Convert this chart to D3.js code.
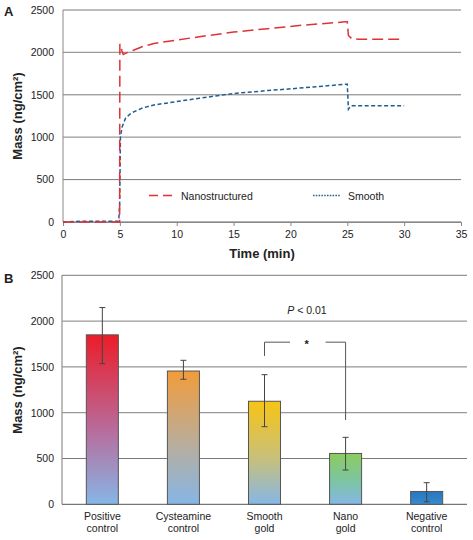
<!DOCTYPE html>
<html><head><meta charset="utf-8">
<script src="https://cdn.jsdelivr.net/npm/d3@7/dist/d3.min.js"></script>
<style>
body{margin:0;background:#fff;}
svg text{font-family:"Liberation Sans",Arial,sans-serif;fill:#222;}
</style></head>
<body><svg id="c" width="473" height="540"></svg>
<script>
// ---- Panel A data ----
const nanoTime = [0, 4.98, 5.0, 5.08, 5.18, 5.3, 5.45, 5.7, 6.2, 7, 8, 10, 12, 15, 18, 21, 24.8, 25.0, 25.1, 25.4, 26, 30];
const nanoMass = [0, 0, 2100, 2080, 2020, 1975, 1985, 2000, 2025, 2070, 2105, 2145, 2185, 2240, 2280, 2320, 2360, 2360, 2200, 2160, 2155, 2155];
const smoothTime = [0, 1.5, 4.9, 4.98, 5.05, 5.2, 5.5, 6, 7, 8, 10, 12, 15, 18, 20, 24.9, 25.0, 25.1, 25.3, 26, 30];
const smoothMass = [0, 8, 10, 200, 1000, 1120, 1225, 1285, 1345, 1380, 1420, 1460, 1515, 1550, 1570, 1625, 1625, 1330, 1370, 1370, 1370];
const xTicksA = [0, 5, 10, 15, 20, 25, 30, 35];
const yTicks = [0, 500, 1000, 1500, 2000, 2500];
const seriesNames = ["Nanostructured", "Smooth"];

// ---- Panel B data ----
const categories = [["Positive","control"],["Cysteamine","control"],["Smooth","gold"],["Nano","gold"],["Negative","control"]];
const barMeans = [1850, 1455, 1125, 555, 140];
const errLow = [1535, 1365, 847, 374, 28];
const errHigh = [2148, 1572, 1415, 731, 236];
const topColors = ["#ec1c28", "#f29c3a", "#f7c414", "#8ccb5e", "#2877bf"];
const midColors = ["#b96a9a", "#b8ad9c", "#c8c07a", "#7cc4a4", "#2f80c6"];
const botColors = ["#86b6e6", "#86b6e6", "#86b6e6", "#86b6e6", "#3a8bd0"];
const bracket = {from: 2, to: 3, yLeft: 1620, yTop: 1770, yRight: 920};
const pLabel = "< 0.01";

const svg = d3.select("#c");
const gridCol = "#7a7a7a";
const fmt = d3.format("d");

// ===== Panel A =====
const xA = d3.scaleLinear().domain([0, 35]).range([63, 461]);
const yA = d3.scaleLinear().domain([0, 2500]).range([222, 10]);
const gA = svg.append("g");
gA.append("g").selectAll("line").data(yTicks).join("line")
  .attr("x1", 63).attr("x2", 461).attr("y1", d => yA(d)).attr("y2", d => yA(d))
  .attr("stroke", (d,i) => i % 2 ? gridCol : "#999").attr("stroke-width", (d,i)=> i%2 ? 1 : 1.3);
gA.append("line").attr("x1", 63).attr("x2", 63).attr("y1", 10).attr("y2", 222).attr("stroke", "#888");
const axA = gA.append("g").attr("transform", "translate(0,222)")
  .call(d3.axisBottom(xA).tickValues(xTicksA).tickFormat(fmt).tickSize(4).tickSizeOuter(0));
axA.select(".domain").attr("stroke", "#888");
axA.selectAll(".tick line").attr("stroke", "#888");
axA.selectAll("text").attr("font-size", 10.5).attr("dy", "0.9em").attr("fill", "#222")
  .style("font-family", "Liberation Sans, Arial, sans-serif");
const ayA = gA.append("g").attr("transform", "translate(63,0)")
  .call(d3.axisLeft(yA).tickValues(yTicks).tickFormat(fmt).tickSize(0));
ayA.select(".domain").remove();
ayA.selectAll("text").attr("font-size", 10.5).attr("x", -9).attr("fill", "#222")
  .style("font-family", "Liberation Sans, Arial, sans-serif");

const lineLin = d3.line().x(d => xA(d[0])).y(d => yA(d[1]));
const smoothData = smoothTime.map((t,i)=>[t, smoothMass[i]]);
const nanoData = nanoTime.map((t,i)=>[t, nanoMass[i]]);
gA.append("path").attr("d", lineLin(smoothData)).attr("fill","none")
  .attr("stroke", "#1f5d92").attr("stroke-width", 1.5).attr("stroke-dasharray", "4,2.5");
gA.append("path").attr("d", lineLin(nanoData)).attr("fill","none")
  .attr("stroke", "#e0313b").attr("stroke-width", 1.5).attr("stroke-dasharray", "11,5");

// legend
gA.append("line").attr("x1",149).attr("x2",176).attr("y1",195.5).attr("y2",195.5)
  .attr("stroke","#e0313b").attr("stroke-width",1.5).attr("stroke-dasharray","9,5");
gA.append("text").attr("x",181).attr("y",199.5).attr("font-size",10.5).text(seriesNames[0]);
gA.append("line").attr("x1",313).attr("x2",341).attr("y1",195.5).attr("y2",195.5)
  .attr("stroke","#1f5d92").attr("stroke-width",1.3).attr("stroke-dasharray","1.5,1.3");
gA.append("text").attr("x",348).attr("y",199.5).attr("font-size",10.5).text(seriesNames[1]);

gA.append("text").attr("x",262).attr("y",258).attr("text-anchor","middle")
  .attr("font-size",13).attr("font-weight","bold").text("Time (min)");
gA.append("text").attr("transform","translate(22,116) rotate(-90)").attr("text-anchor","middle")
  .attr("font-size",13).attr("font-weight","bold").text("Mass (ng/cm²)");
gA.append("text").attr("x",4).attr("y",16).attr("font-size",13).attr("font-weight","bold").text("A");

// ===== Panel B =====
const xB = d3.scaleBand().domain(d3.range(categories.length)).range([62, 467]).paddingInner(0.605).paddingOuter(0.3);
const yB = d3.scaleLinear().domain([0, 2500]).range([504.3, 275.3]);
const gB = svg.append("g");
gB.append("g").selectAll("line").data(yTicks.slice(1)).join("line")
  .attr("x1", 62).attr("x2", 467).attr("y1", d => yB(d)).attr("y2", d => yB(d))
  .attr("stroke", (d,i) => i % 2 ? "#999" : gridCol).attr("stroke-width", (d,i)=> i%2 ? 1.3 : 1);
gB.append("line").attr("x1", 62).attr("x2", 62).attr("y1", 275).attr("y2", 504.3).attr("stroke", "#999").attr("stroke-width",1.3);
gB.append("line").attr("x1", 62).attr("x2", 467).attr("y1", 504.3).attr("y2", 504.3).attr("stroke", "#777").attr("stroke-width",1.2);
const ayB = gB.append("g").attr("transform", "translate(62,0)")
  .call(d3.axisLeft(yB).tickValues(yTicks).tickFormat(fmt).tickSize(0));
ayB.select(".domain").remove();
ayB.selectAll("text").attr("font-size", 10.5).attr("x", -8).attr("fill", "#222")
  .style("font-family", "Liberation Sans, Arial, sans-serif");

const defs = svg.append("defs");
categories.forEach((c,i) => {
  const gr = defs.append("linearGradient").attr("id","g"+i).attr("x1",0).attr("x2",0).attr("y1",0).attr("y2",1);
  gr.append("stop").attr("offset","0%").attr("stop-color",topColors[i]);
  gr.append("stop").attr("offset","55%").attr("stop-color",midColors[i]);
  gr.append("stop").attr("offset","100%").attr("stop-color",botColors[i]);
});
const cx = i => xB(i) + xB.bandwidth()/2;
gB.selectAll("rect.bar").data(barMeans).join("rect").attr("class","bar")
  .attr("x",(d,i)=>xB(i)).attr("width",xB.bandwidth())
  .attr("y",d=>yB(d)).attr("height",d=>yB(0)-yB(d))
  .attr("fill",(d,i)=>`url(#g${i})`).attr("stroke","#555").attr("stroke-width",1);
// error bars
const eb = gB.append("g").attr("stroke","#444").attr("stroke-width",1);
barMeans.forEach((d,i)=>{
  eb.append("line").attr("x1",cx(i)).attr("x2",cx(i)).attr("y1",yB(errLow[i])).attr("y2",yB(errHigh[i]));
  [errLow[i], errHigh[i]].forEach(v => eb.append("line").attr("x1",cx(i)-3).attr("x2",cx(i)+3).attr("y1",yB(v)).attr("y2",yB(v)));
});
// significance bracket
const bL = cx(bracket.from), bR = cx(bracket.to);
const br = gB.append("g").attr("stroke","#555").attr("fill","none").attr("stroke-width",1);
br.append("path").attr("d",`M${bL},${yB(bracket.yLeft)}V${yB(bracket.yTop)}H${bL+25.5}`);
br.append("path").attr("d",`M${bR-20},${yB(bracket.yTop)}H${bR}V${yB(bracket.yRight)}`);
gB.append("text").attr("x",(bL+bR)/2+1.5).attr("y",yB(bracket.yTop)+6).attr("text-anchor","middle")
  .attr("font-size",11).attr("font-weight","bold").text("*");
const pt = gB.append("text").attr("x",307).attr("y",313.5).attr("text-anchor","middle").attr("font-size",10.5);
pt.append("tspan").attr("font-style","italic").text("P");
pt.append("tspan").text(" " + pLabel);

// category labels
categories.forEach((c,i)=>{
  const t = gB.append("text").attr("x",cx(i)).attr("y",519.5).attr("text-anchor","middle").attr("font-size",10.5);
  t.append("tspan").attr("x",cx(i)).text(c[0]);
  t.append("tspan").attr("x",cx(i)).attr("dy",12.5).text(c[1]);
});
gB.append("text").attr("transform","translate(22,390) rotate(-90)").attr("text-anchor","middle")
  .attr("font-size",13).attr("font-weight","bold").text("Mass (ng/cm²)");
gB.append("text").attr("x",4).attr("y",283).attr("font-size",13).attr("font-weight","bold").text("B");
</script></body></html>
